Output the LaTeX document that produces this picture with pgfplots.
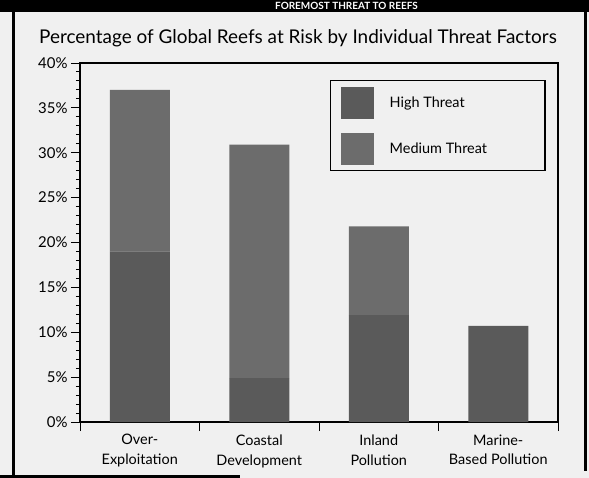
\documentclass[border=0pt]{standalone}
\usepackage{pgfplots}
\pgfplotsset{compat=1.18}
\usepackage{fontspec}
\setmainfont{Lato}
\definecolor{bg}{HTML}{F0F0F0}
\definecolor{highc}{HTML}{5A5A5A}
\definecolor{medc}{HTML}{6C6C6C}
\begin{document}
\begin{tikzpicture}
\fill[bg] (0bp,0bp) rectangle (589bp,-478bp);
\useasboundingbox (0bp,0bp) rectangle (589bp,-478bp);
% top banner
\fill[black] (0bp,0bp) rectangle (589bp,-11.5bp);
\node[anchor=base west, text=white, inner sep=0pt, font=\bfseries\fontsize{10}{10}\selectfont] at (275bp,-9bp) {FOREMOST THREAT TO REEFS};
% frame
\draw[line width=3bp] (13.5bp,-11bp) -- (13.5bp,-478bp);
\draw[line width=3bp] (585.5bp,0bp) -- (585.5bp,-471bp);
\draw[line width=3bp] (0bp,-476.5bp) -- (240bp,-476.5bp);
% title
\node[font=\fontsize{19}{19}\selectfont, inner sep=0pt] at (298bp,-38bp) {Percentage of Global Reefs at Risk by Individual Threat Factors};
\begin{axis}[
  at={(80bp,-422bp)}, anchor=south west,
  scale only axis, width=478bp, height=359bp,
  ybar stacked, bar width=60bp,
  xmin=-0.5, xmax=3.5, ymin=0, ymax=40,
  axis background/.style={fill=none},
  axis line style={line width=1.5bp},
  tick style={black, line width=1bp},
  tick align=outside,
  xtick pos=left, ytick pos=left,
  major tick length=9bp, minor tick length=4bp,
  ytick={0,5,...,40}, minor y tick num=4,
  yticklabel={\pgfmathprintnumber{\tick}\%},
  yticklabel style={font=\fontsize{15}{15}\selectfont},
  /pgf/number format/assume math mode=true,
  xtick={-0.5,0.5,1.5,2.5,3.5},
  x tick label as interval,
  xticklabels={{Over-\\Exploitation},{Coastal\\Development},{Inland\\Pollution},{Marine-\\Based Pollution},{}},
  xticklabel style={align=center, font=\fontsize{14.5}{20}\selectfont},
  legend style={at={(0.523,0.953)}, anchor=north west, draw=black, line width=1.5bp, fill=none,
    inner xsep=10bp, inner ysep=6bp, row sep=14bp,
    font=\fontsize{14.5}{14.5}\selectfont,
    /tikz/every odd column/.append style={column sep=14bp}},
  legend cell align=left,
  legend image code/.code={\fill[#1] (0bp,-16bp) rectangle (33bp,16bp);},
]
\addplot[fill=highc, draw=none] coordinates {(0,19) (1,4.9) (2,11.9) (3,10.7)};
\addlegendentry{High Threat}
\addplot[fill=medc, draw=none] coordinates {(0,18) (1,26) (2,9.9) (3,0)};
\addlegendentry{Medium Threat\hspace*{46bp}}
\end{axis}
\end{tikzpicture}
\end{document}
